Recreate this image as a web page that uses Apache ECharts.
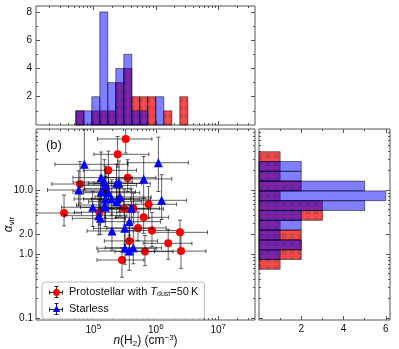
<!DOCTYPE html>
<html>
<head>
<meta charset="utf-8">
<script src="https://cdn.jsdelivr.net/npm/echarts@6/dist/echarts.min.js"></script>
<style>
html,body{margin:0;padding:0;background:#fff}
#main{width:399px;height:349px}
</style>
</head>
<body>
<div id="main"></div>
<script>
// ---- values ----
// protostellar cores (Tdust = 50 K): n(H2) [cm^-3], alpha_vir
var protoN = [3.30e5, 2.45e5, 1.74e5, 6.12e4, 3.55e5, 1.60e5, 2.61e5, 7.64e5, 3.40e4, 3.13e5, 4.37e5,
              1.25e5, 6.40e5, 5.19e5, 8.69e5, 2.44e6, 3.77e5, 1.58e6, 6.71e5, 2.53e6, 2.88e5];
var protoA = [62.7, 36.1, 20.3, 12.4, 15.6, 10.5, 7.23, 5.98, 4.37, 5.05, 5.05,
              4.48, 3.74, 2.55, 2.33, 2.18, 1.60, 1.47, 1.09, 1.11, 0.806];
// error bars in dex: [n low, n high, alpha low, alpha high]
var protoErr = [[0.45,0.42,0.22,0.30],[0.38,0.50,0.20,0.28],[0.40,0.45,0.25,0.30],[0.45,0.40,0.30,0.35],
                [0.42,0.45,0.22,0.28],[0.35,0.40,0.25,0.30],[0.45,0.50,0.20,0.25],[0.40,0.45,0.22,0.28],
                [0.46,0.28,0.20,0.28],[0.50,0.42,0.25,0.30],[0.45,0.48,0.22,0.25],[0.40,0.55,0.20,0.25],
                [0.45,0.40,0.25,0.30],[0.50,0.45,0.20,0.25],[0.45,0.42,0.25,0.28],[0.45,0.44,0.25,0.19],
                [0.40,0.45,0.20,0.25],[0.40,0.38,0.25,0.22],[0.48,0.45,0.22,0.25],[0.42,0.40,0.27,0.25],
                [0.40,0.35,0.27,0.19]];

// starless cores
var starN = [7.18e4, 1.10e6, 1.33e5, 6.40e5, 1.50e5, 2.35e5, 2.58e5, 5.84e4, 1.33e5, 1.75e5, 1.56e5, 1.97e5,
             2.67e5, 2.37e5, 1.24e6, 9.78e4, 1.52e5, 1.56e5, 4.06e5, 1.22e5, 1.30e5, 3.77e5, 1.99e5, 3.18e5,
             3.21e5, 3.77e5, 4.37e5, 1.56e5];
var starA = [25.2, 26.7, 15.6, 14.9, 13.3, 12.7, 12.7, 10.0, 9.40, 9.07, 7.23, 7.23,
             7.78, 6.56, 6.90, 5.37, 5.83, 5.37, 5.18, 3.97, 3.61, 3.20, 2.29, 2.52,
             1.23, 1.11, 1.25, 11.8];
var starErr = [[0.47,0.70,0.40,0.55],[0.50,0.48,0.45,0.40],[0.45,0.50,0.35,0.40],[0.40,0.45,0.30,0.35],
               [0.50,0.45,0.30,0.35],[0.45,0.40,0.25,0.30],[0.40,0.50,0.30,0.35],[0.50,0.45,0.25,0.30],
               [0.45,0.55,0.30,0.25],[0.40,0.50,0.25,0.30],[0.50,0.40,0.30,0.35],[0.45,0.45,0.25,0.30],
               [0.40,0.50,0.30,0.25],[0.45,0.40,0.25,0.35],[0.45,0.40,0.30,0.40],[0.50,0.45,0.30,0.25],
               [0.45,0.50,0.25,0.30],[0.40,0.45,0.30,0.25],[0.50,0.45,0.25,0.30],[0.55,0.45,0.30,0.25],
               [0.45,0.40,0.25,0.30],[0.45,0.50,0.30,0.25],[0.40,0.45,0.30,0.35],[0.50,0.45,0.25,0.30],
               [0.45,0.50,0.25,0.30],[0.50,0.40,0.30,0.25],[0.45,0.45,0.25,0.30],[0.40,0.50,0.30,0.30]];

// histogram of log10 n(H2)
var nEdges = [4.720, 4.848, 4.976, 5.104, 5.232, 5.360, 5.488, 5.616, 5.744, 5.872, 6.000, 6.128, 6.256, 6.384, 6.512];
var protoNCounts = [1, 0, 1, 1, 1, 3, 4, 2, 2, 2, 0, 1, 0, 2];
var starNCounts  = [1, 1, 2, 8, 3, 4, 5, 1, 1, 0, 2, 0, 0, 0];
// histogram of log10 alpha_vir
var aEdges = [-0.239, -0.086, 0.067, 0.220, 0.373, 0.526, 0.680, 0.833, 0.986, 1.139, 1.292, 1.445, 1.598];
var protoACounts = [1, 2, 2, 2, 1, 3, 3, 1, 2, 1, 1, 1];
var starACounts  = [0, 1, 2, 1, 2, 2, 5, 6, 5, 2, 2, 0];

// tick labels
var nTicks = [1e5, 1e6, 1e7];
var aTicks = [0.1, 1, 2, 10];
var topCountTicks = [2, 4, 6, 8];
var rightCountTicks = [2, 4, 6];

// ---- chart ----
var FONT = '"Liberation Sans", Arial, sans-serif';
var XMIN = 1.21e4, XMAX = 3.87e7, YMIN = 0.093, YMAX = 89.8;
var AXC = '#555';

var minorN = [], minorA = [];
[1e4, 1e5, 1e6, 1e7].forEach(function (d){
  for (var k = 2; k < 10; k++){ if (k * d > XMIN && k * d < XMAX) minorN.push(k * d); }
});
[0.1, 1, 10].forEach(function (d){
  for (var k = 2; k < 10; k++){ var v = k * d; if (v > YMIN && v < YMAX && v !== 2) minorA.push(v); }
});

function starPattern(){
  var c = document.createElement('canvas');
  c.width = 8; c.height = 8;
  var g = c.getContext('2d');
  g.fillStyle = 'rgba(255,0,0,0.72)';
  g.fillRect(0, 0, 8, 8);
  g.strokeStyle = 'rgba(80,80,90,0.85)';
  g.lineWidth = 0.6;
  g.beginPath();
  for (var i = 0; i < 10; i++){
    var r = i % 2 ? 1.1 : 2.7, ang = -Math.PI / 2 + i * Math.PI / 5;
    var px = 4 + r * Math.cos(ang), py = 4 + r * Math.sin(ang);
    if (i) g.lineTo(px, py); else g.moveTo(px, py);
  }
  g.closePath();
  g.stroke();
  return c;
}
var redFill = {image: starPattern(), repeat: 'repeat'};
var blueFill = 'rgba(0,0,255,0.5)';

function legendIcon(color, tri){
  var c = document.createElement('canvas');
  c.width = 16; c.height = 14;
  var g = c.getContext('2d');
  g.strokeStyle = '#222'; g.lineWidth = 1;
  g.beginPath();
  g.moveTo(1, 7.5); g.lineTo(15, 7.5);
  g.moveTo(1.5, 5.5); g.lineTo(1.5, 9.5);
  g.moveTo(14.5, 5.5); g.lineTo(14.5, 9.5);
  g.moveTo(8.5, 1); g.lineTo(8.5, 13);
  g.moveTo(6.5, 1.5); g.lineTo(10.5, 1.5);
  g.moveTo(6.5, 12.5); g.lineTo(10.5, 12.5);
  g.stroke();
  g.fillStyle = color;
  g.beginPath();
  if (tri){ g.moveTo(8.5, 3.5); g.lineTo(12.2, 10); g.lineTo(4.8, 10); g.closePath(); }
  else { g.arc(8.5, 7.5, 3.4, 0, Math.PI * 2); }
  g.fill();
  return 'image://' + c.toDataURL();
}

var xAxes = [], yAxes = [];
function addAxis(list, o){
  var a = {
    type: o.type, gridIndex: o.grid, min: o.min, max: o.max, position: o.pos,
    axisLine: {show: false, onZero: false},
    splitLine: {show: false},
    axisTick: {show: true, inside: true, length: o.len, customValues: o.ticks, lineStyle: {color: AXC, width: 1}},
    axisLabel: {show: false}
  };
  if (o.type === 'log') a.logBase = 10;
  if (o.labels){
    a.axisLabel = {show: true, customValues: o.labels, formatter: o.fmt, color: '#111', fontSize: 10,
                   fontFamily: FONT, margin: o.margin || 4, rich: o.rich};
  }
  if (o.name){
    a.name = o.name; a.nameLocation = 'middle'; a.nameGap = o.nameGap;
    a.nameMoveOverlap = false;
    a.nameRotate = o.nameRotate || 0;
    a.nameTextStyle = {color: '#111', fontSize: 12, fontFamily: FONT, rich: o.nameRich};
  }
  list.push(a);
  return list.length - 1;
}
function logX(grid, pos, main){
  var i = addAxis(xAxes, {type: 'log', grid: grid, min: XMIN, max: XMAX, pos: pos, len: 4, ticks: nTicks,
    labels: main ? nTicks : null, margin: 3,
    fmt: function (v){ return '10{s|' + Math.round(Math.log(v) / Math.LN10) + '}'; },
    rich: {s: {fontSize: 8, fontFamily: FONT, color: '#111', verticalAlign: 'top', padding: [0, 0, 6, 0]}},
    name: main ? '{i|n}(H{s|2}) (cm{p|\u22123})' : null, nameGap: 14,
    nameRich: {i: {fontStyle: 'italic', fontSize: 12, fontFamily: FONT, color: '#111'},
               s: {fontSize: 8, fontFamily: FONT, color: '#111', padding: [6, 0, 0, 0]},
               p: {fontSize: 8, fontFamily: FONT, color: '#111', padding: [0, 0, 6, 0]}}});
  addAxis(xAxes, {type: 'log', grid: grid, min: XMIN, max: XMAX, pos: pos, len: 2, ticks: minorN});
  return i;
}
function logY(grid, pos, main){
  var i = addAxis(yAxes, {type: 'log', grid: grid, min: YMIN, max: YMAX, pos: pos, len: 4, ticks: aTicks,
    labels: main ? aTicks : null, margin: 3,
    fmt: function (v){ return v.toFixed(1); },
    name: main ? '{i|\u03b1}{s|vir}' : null, nameGap: 20, nameRotate: 90,
    nameRich: {i: {fontStyle: 'italic', fontSize: 12, fontFamily: FONT, color: '#111'},
               s: {fontSize: 8, fontFamily: FONT, color: '#111', padding: [6, 0, 0, 0]}}});
  addAxis(yAxes, {type: 'log', grid: grid, min: YMIN, max: YMAX, pos: pos, len: 2, ticks: minorA});
  return i;
}
function countAxis(list, grid, pos, max, major, minor, showLabels){
  var i = addAxis(list, {type: 'value', grid: grid, min: 0, max: max, pos: pos, len: 4, ticks: major,
    labels: showLabels ? major : null, margin: 4, fmt: function (v){ return String(v); }});
  addAxis(list, {type: 'value', grid: grid, min: 0, max: max, pos: pos, len: 2, ticks: minor});
  return i;
}

// top histogram grid 0, scatter grid 1, right histogram grid 2
var topX = logX(0, 'bottom', false);
logX(0, 'top', false);
var topY = countAxis(yAxes, 0, 'left', 8.42, topCountTicks, [1, 3, 5, 7], true);
countAxis(yAxes, 0, 'right', 8.42, topCountTicks, [1, 3, 5, 7], false);

var mainX = logX(1, 'bottom', true);
logX(1, 'top', false);
var mainY = logY(1, 'left', true);
logY(1, 'right', false);

var rightX = countAxis(xAxes, 2, 'bottom', 6.2, rightCountTicks, [1, 3, 5], true);
countAxis(xAxes, 2, 'top', 6.2, rightCountTicks, [1, 3, 5], false);
var rightY = logY(2, 'left', false);
logY(2, 'right', false);

function vBars(fill){
  return function (params, api){
    var h = api.value(2);
    if (!h) return;
    var p0 = api.coord([api.value(0), 0]), p1 = api.coord([api.value(1), h]);
    return {type: 'rect', shape: {x: p0[0], y: p1[1], width: p1[0] - p0[0], height: p0[1] - p1[1]},
            style: {fill: fill, stroke: 'rgba(0,0,0,0.5)', lineWidth: 1}};
  };
}
function hBars(fill){
  return function (params, api){
    var w = api.value(2);
    if (!w) return;
    var p0 = api.coord([0, api.value(0)]), p1 = api.coord([w, api.value(1)]);
    return {type: 'rect', shape: {x: p0[0], y: p1[1], width: p1[0] - p0[0], height: p0[1] - p1[1]},
            style: {fill: fill, stroke: 'rgba(0,0,0,0.5)', lineWidth: 1}};
  };
}
function binData(edges, counts){
  return counts.map(function (c, i){ return [Math.pow(10, edges[i]), Math.pow(10, edges[i + 1]), c]; });
}
function errData(ns, as, errs){
  return ns.map(function (n, i){
    var e = errs[i], a = as[i];
    return [n, a, n / Math.pow(10, e[0]), n * Math.pow(10, e[1]), a / Math.pow(10, e[2]), a * Math.pow(10, e[3])];
  });
}
function errBars(params, api){
  var x = api.value(0), y = api.value(1);
  var l = api.coord([api.value(2), y]), r = api.coord([api.value(3), y]);
  var b = api.coord([x, api.value(4)]), t = api.coord([x, api.value(5)]);
  var cap = 2;
  var st = {stroke: 'rgba(0,0,0,0.62)', lineWidth: 1};
  function ln(x1, y1, x2, y2){ return {type: 'line', shape: {x1: x1, y1: y1, x2: x2, y2: y2}, style: st}; }
  return {type: 'group', children: [
    ln(l[0], l[1], r[0], r[1]), ln(b[0], b[1], t[0], t[1]),
    ln(l[0], l[1] - cap, l[0], l[1] + cap), ln(r[0], r[1] - cap, r[0], r[1] + cap),
    ln(b[0] - cap, b[1], b[0] + cap, b[1]), ln(t[0] - cap, t[1], t[0] + cap, t[1])
  ]};
}
function pairs(ns, as){ return ns.map(function (n, i){ return [n, as[i]]; }); }

var myChart = echarts.init(document.getElementById('main'), null, {renderer: 'canvas'});
var gridBase = {show: true, borderColor: AXC, borderWidth: 1, containLabel: false, outerBoundsMode: 'none'};
var option = {
  animation: false,
  title: {text: '(b)', left: 41, top: 134, textStyle: {fontSize: 13, fontWeight: 'normal', fontFamily: FONT, color: '#111'}},
  grid: [
    Object.assign({left: 36, top: 6, width: 219, height: 119}, gridBase),
    Object.assign({left: 36, top: 129, width: 219, height: 191}, gridBase),
    Object.assign({left: 259, top: 129, width: 131, height: 191}, gridBase)
  ],
  xAxis: xAxes,
  yAxis: yAxes,
  legend: {
    orient: 'vertical', left: 42, top: 282, itemWidth: 16, itemHeight: 14, itemGap: 3,
    padding: [3, 6, 3, 6], borderColor: '#bbb', borderWidth: 1, borderRadius: 3, backgroundColor: '#fff',
    data: [{name: 'Protostellar', icon: legendIcon('red', false)}, {name: 'Starless', icon: legendIcon('blue', true)}],
    formatter: function (name){
      return name === 'Protostellar' ? 'Protostellar with {i|T}{s|dust}=50\u2009K' : 'Starless';
    },
    textStyle: {fontSize: 11, fontFamily: FONT, color: '#111',
      rich: {i: {fontStyle: 'italic', fontSize: 11, fontFamily: FONT, color: '#111'},
             s: {fontSize: 7, fontFamily: FONT, color: '#111', padding: [5, 0, 0, 0]}}}
  },
  series: [
    {type: 'custom', xAxisIndex: topX, yAxisIndex: topY, renderItem: vBars(redFill), encode: {x: [0, 1], y: 2},
     data: binData(nEdges, protoNCounts), z: 2, silent: true},
    {type: 'custom', xAxisIndex: topX, yAxisIndex: topY, renderItem: vBars(blueFill), encode: {x: [0, 1], y: 2},
     data: binData(nEdges, starNCounts), z: 3, silent: true},
    {type: 'custom', xAxisIndex: rightX, yAxisIndex: rightY, renderItem: hBars(redFill), encode: {x: 2, y: [0, 1]},
     data: binData(aEdges, protoACounts), z: 2, silent: true},
    {type: 'custom', xAxisIndex: rightX, yAxisIndex: rightY, renderItem: hBars(blueFill), encode: {x: 2, y: [0, 1]},
     data: binData(aEdges, starACounts), z: 3, silent: true},
    {type: 'custom', name: 'protoErr', xAxisIndex: mainX, yAxisIndex: mainY, renderItem: errBars, clip: true,
     encode: {x: 0, y: 1}, data: errData(protoN, protoA, protoErr), z: 2, silent: true},
    {type: 'scatter', name: 'Protostellar', xAxisIndex: mainX, yAxisIndex: mainY, symbol: 'circle', symbolSize: 8,
     itemStyle: {color: 'red', opacity: 1}, data: pairs(protoN, protoA), z: 3},
    {type: 'custom', name: 'starErr', xAxisIndex: mainX, yAxisIndex: mainY, renderItem: errBars, clip: true,
     encode: {x: 0, y: 1}, data: errData(starN, starA, starErr), z: 4, silent: true},
    {type: 'scatter', name: 'Starless', xAxisIndex: mainX, yAxisIndex: mainY, symbol: 'triangle', symbolSize: 9,
     itemStyle: {color: 'blue', opacity: 1}, data: pairs(starN, starA), z: 5}
  ]
};
myChart.setOption(option);
</script>
</body>
</html>
